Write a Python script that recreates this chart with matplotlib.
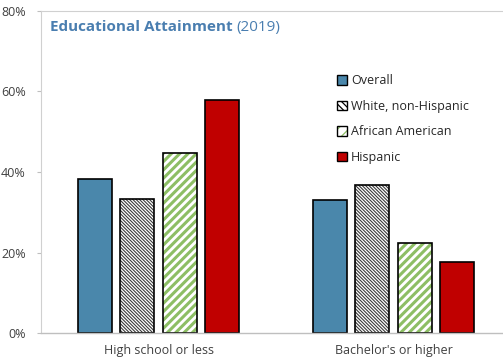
import matplotlib
matplotlib.use("Agg")
import matplotlib.pyplot as plt
from matplotlib.patches import Patch
from matplotlib.legend_handler import HandlerTuple
import numpy as np

categories = ["High school or less", "Bachelor's or higher"]
series = ["Overall", "White, non-Hispanic", "African American", "Hispanic"]
overall = [38.3, 33.1]
white = [33.3, 36.8]
african_american = [44.8, 22.4]
hispanic = [57.8, 17.7]
yticks = [0, 20, 40, 60, 80]
ytick_labels = ["0%", "20%", "40%", "60%", "80%"]

plt.rcParams['font.family'] = ['Open Sans', 'DejaVu Sans']
plt.rcParams['hatch.linewidth'] = 0.9

fig = plt.figure(figsize=(5.03, 3.6), dpi=100)
ax = fig.add_axes([41/503, 27/360, 470/503, 322/360])

x = np.arange(len(categories))
step = 0.181
w = 0.145
blue = "#4A87AB"
red = "#C00000"
green = "#8DBE64"
white_hatch = "\\" * 10
green_hatch = "////"

def set_hlw(bars, lw):
    for b in bars:
        try:
            b.set_hatch_linewidth(lw)
        except Exception:
            pass

ax.bar(x - 1.5*step, overall, w, color=blue, edgecolor="black", linewidth=1.2)
b = ax.bar(x - 0.5*step, white, w, color="white", edgecolor="#3a3a3a", hatch=white_hatch, linewidth=0)
set_hlw(b, 0.8)
ax.bar(x - 0.5*step, white, w, fill=False, edgecolor="black", linewidth=1.2)
b = ax.bar(x + 0.5*step, african_american, w, color="white", edgecolor=green, hatch=green_hatch, linewidth=0)
set_hlw(b, 2.2)
ax.bar(x + 0.5*step, african_american, w, fill=False, edgecolor="black", linewidth=1.2)
ax.bar(x + 1.5*step, hispanic, w, color=red, edgecolor="black", linewidth=1.2)

ax.set_xlim(-0.5, 1.5)
ax.set_ylim(0, 80)
ax.set_yticks(yticks)
ax.set_yticklabels(ytick_labels)
ax.set_xticks(x)
ax.set_xticklabels(categories)
ax.tick_params(axis='y', length=3, color="#BFBFBF", labelsize=9, labelcolor="#404040", pad=8)
ax.tick_params(axis='x', length=0, labelsize=9, labelcolor="#404040", pad=8)
for s in ["left", "top"]:
    ax.spines[s].set_color("#D0D0D0")
    ax.spines[s].set_linewidth(0.8)
ax.spines["bottom"].set_color("#BFBFBF")
ax.spines["bottom"].set_linewidth(1.0)
ax.spines["right"].set_visible(False)

t1 = fig.text(50/503, 1 - 27/360, "Educational Attainment", color="#4A7EB0", fontsize=11,
              fontweight="bold", va="center", ha="left")
fig.canvas.draw()
bb = t1.get_window_extent()
fig.text((bb.x1 + 4)/503, 1 - 27/360, "(2019)", color="#4A7EB0", fontsize=11,
         va="center", ha="left")

handles = [
    Patch(facecolor=blue, edgecolor="black", linewidth=1),
    Patch(facecolor="white", edgecolor="black", hatch="\\\\\\\\\\", linewidth=1),
    (Patch(facecolor="white", edgecolor=green, hatch="///", linewidth=0),
     Patch(fill=False, edgecolor="black", linewidth=1)),
    Patch(facecolor=red, edgecolor="black", linewidth=1),
]
leg = ax.legend(handles, series, loc="upper left", bbox_to_anchor=(326/503, 1 - 63/360),
                bbox_transform=fig.transFigure, frameon=False, fontsize=9,
                handlelength=0.8, handleheight=0.8, handletextpad=0.3, labelspacing=1.0,
                handler_map={tuple: HandlerTuple(ndivide=1, pad=0)})
for txt in leg.get_texts():
    txt.set_color("#262626")

fig.savefig("out.png", dpi=100)
